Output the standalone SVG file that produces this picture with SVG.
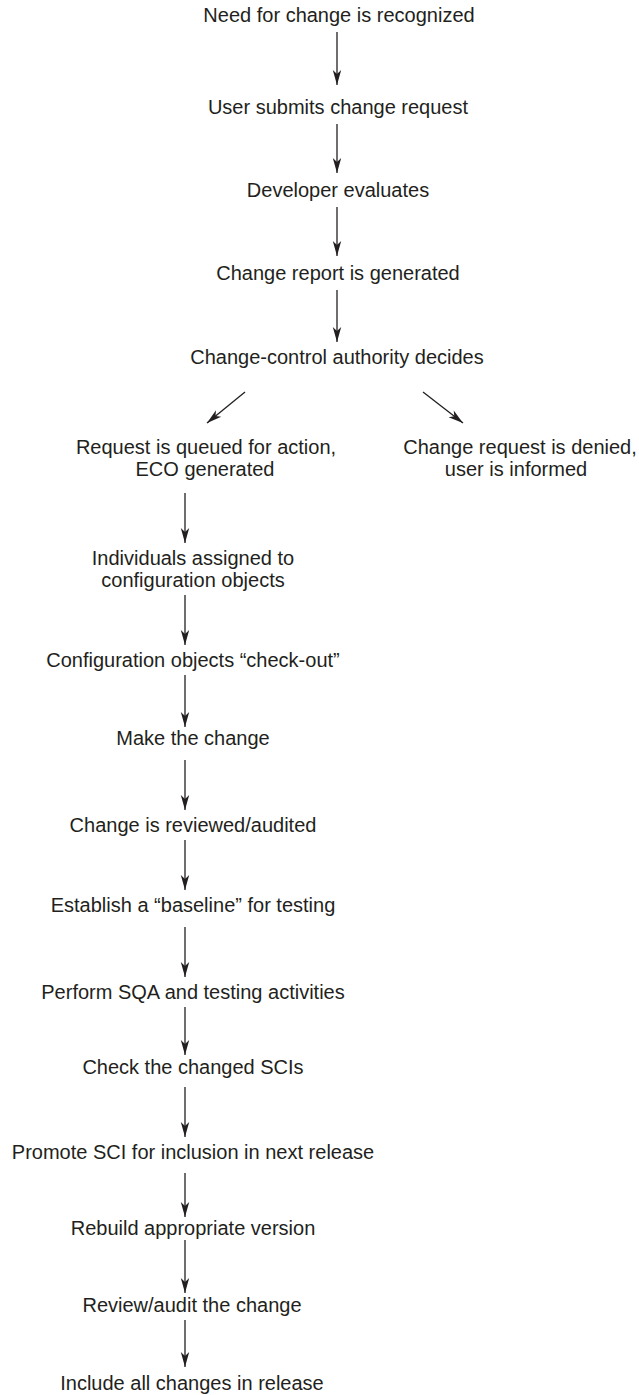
<svg xmlns="http://www.w3.org/2000/svg" width="639" height="1395" viewBox="0 0 639 1395">
<style>
text{font-family:"Liberation Sans",Arial,sans-serif;font-size:20px;fill:#231f20;text-anchor:middle}
.c line{stroke:#231f20;stroke-width:1.3;marker-end:url(#ah)}
</style>
<defs>
<marker id="ah" markerUnits="userSpaceOnUse" markerWidth="20" markerHeight="12" viewBox="-16 -6 18 12" refX="0" refY="0" orient="auto">
<path d="M0,0 L-15,-4.2 L-11,0 L-15,4.2 Z" fill="#231f20"/>
</marker>
</defs>
<rect width="639" height="1395" fill="#fff"/>
<g id="n1"><text x="339" y="22">Need for change is recognized</text></g>
<g id="n2"><text x="338" y="114">User submits change request</text></g>
<g id="n3"><text x="338" y="197">Developer evaluates</text></g>
<g id="n4"><text x="338" y="280">Change report is generated</text></g>
<g id="n5"><text x="337" y="364">Change-control authority decides</text></g>
<g id="n6"><text x="206" y="454">Request is queued for action,</text><text x="205" y="476">ECO generated</text></g>
<g id="n7"><text x="520" y="454">Change request is denied,</text><text x="516" y="476">user is informed</text></g>
<g id="n8"><text x="193" y="565">Individuals assigned to</text><text x="193" y="587">configuration objects</text></g>
<g id="n9"><text x="193" y="667">Configuration objects “check-out”</text></g>
<g id="n10"><text x="193" y="745">Make the change</text></g>
<g id="n11"><text x="193" y="832">Change is reviewed/audited</text></g>
<g id="n12"><text x="193" y="912">Establish a “baseline” for testing</text></g>
<g id="n13"><text x="193" y="999">Perform SQA and testing activities</text></g>
<g id="n14"><text x="193" y="1074">Check the changed SCIs</text></g>
<g id="n15"><text x="193" y="1159">Promote SCI for inclusion in next release</text></g>
<g id="n16"><text x="193" y="1235">Rebuild appropriate version</text></g>
<g id="n17"><text x="192" y="1312">Review/audit the change</text></g>
<g id="n18"><text x="192" y="1390">Include all changes in release</text></g>
<g id="connectors" class="c">
<line x1="337" y1="32" x2="337" y2="85"/>
<line x1="337" y1="124" x2="337" y2="173"/>
<line x1="337" y1="207" x2="337" y2="256"/>
<line x1="337" y1="290" x2="337" y2="342"/>
<line x1="245" y1="392" x2="207" y2="423"/>
<line x1="423" y1="392" x2="463" y2="423"/>
<line x1="185" y1="493" x2="185" y2="543"/>
<line x1="185" y1="595" x2="185" y2="645"/>
<line x1="185" y1="675" x2="185" y2="727"/>
<line x1="185" y1="760" x2="185" y2="810"/>
<line x1="185" y1="840" x2="185" y2="890"/>
<line x1="185" y1="927" x2="185" y2="977"/>
<line x1="185" y1="1007" x2="185" y2="1055"/>
<line x1="185" y1="1087" x2="185" y2="1137"/>
<line x1="185" y1="1173" x2="185" y2="1217"/>
<line x1="185" y1="1240" x2="185" y2="1293"/>
<line x1="185" y1="1320" x2="185" y2="1367"/>
</g>
</svg>
